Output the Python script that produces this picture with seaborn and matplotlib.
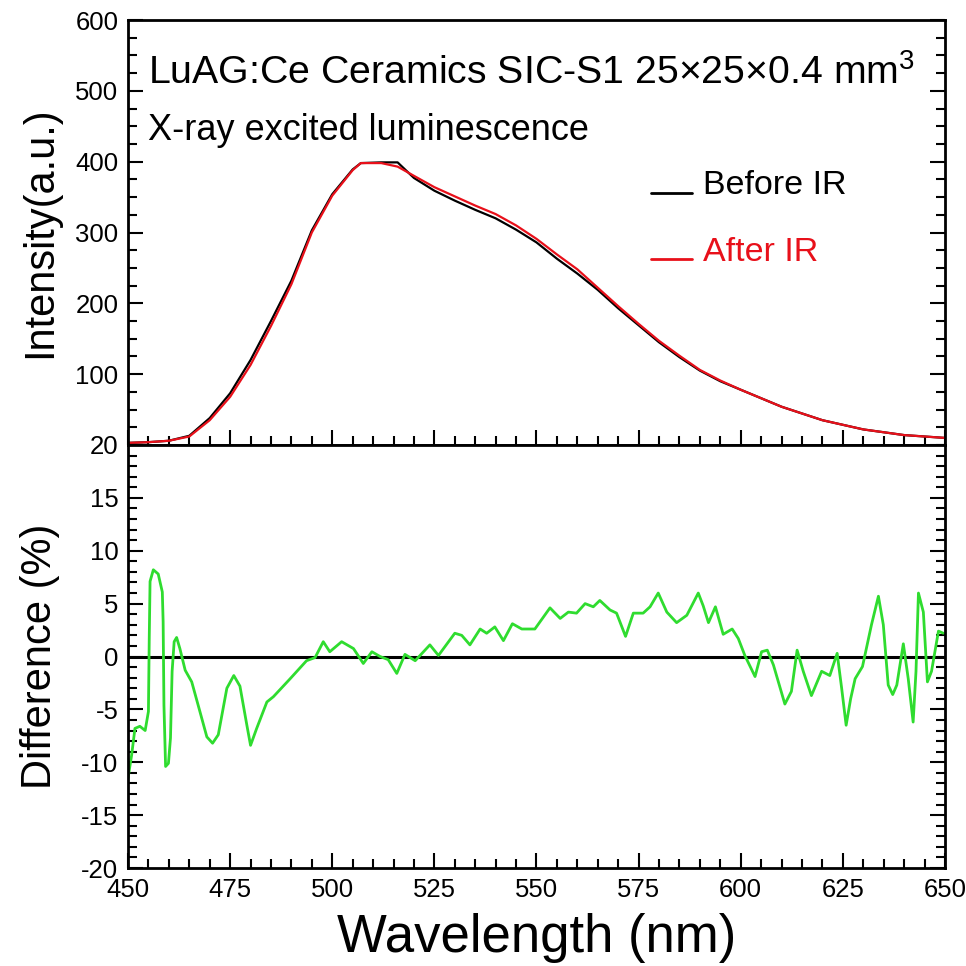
import numpy as np
import pandas as pd
import matplotlib
matplotlib.use("Agg")
import matplotlib.pyplot as plt
from matplotlib.ticker import MultipleLocator
from matplotlib.legend_handler import HandlerLine2D
import seaborn as sns

# ---------------- data ----------------
wl_spec = [450, 455, 460, 465, 470, 475, 480, 485, 490, 495, 500, 505, 507,
           512, 516, 520, 525, 530, 535, 540, 545, 550, 555, 560, 565, 570,
           575, 580, 585, 590, 595, 600, 610, 620, 630, 640, 650]
before_ir = [3, 4, 6, 13, 38, 73, 120, 175, 232, 303, 354, 389, 398,
             399, 399, 377, 359, 345, 332, 320, 304, 286, 263, 242, 219, 193,
             169, 145, 124, 105, 90, 78, 54, 35, 22, 14, 10]
after_ir = [3, 4, 6, 12, 35, 68, 113, 168, 227, 300, 352, 388, 398,
            398, 393, 380, 364, 351, 338, 326, 310, 291, 269, 248, 222, 196,
            171, 147, 126, 106, 91, 78, 54, 35, 22, 14, 10]

wl_diff = [450.0, 450.9, 451.7, 452.9, 454.2, 455.0, 455.2, 455.4, 456.2, 457.4,
           458.4, 458.6, 458.8, 459.2, 459.9, 460.4, 460.8, 461.3, 461.9, 462.7,
           464.0, 465.6, 467.6, 469.3, 470.7, 472.1, 474.2, 475.9, 477.4, 479.1,
           480.0, 481.5, 484.0, 485.6, 489.7, 493.7, 495.8, 497.8, 499.4, 502.3,
           505.2, 507.6, 509.7, 511.7, 513.7, 515.8, 517.8, 520.3, 523.9, 526.0,
           530.0, 531.7, 533.7, 536.2, 537.8, 539.8, 541.9, 544.1, 546.4, 549.6,
           553.3, 555.8, 557.8, 559.8, 561.9, 563.9, 565.5, 568.0, 569.6, 571.8,
           573.7, 576.1, 577.8, 579.8, 581.9, 584.3, 586.8, 589.6, 590.8, 592.1,
           593.8, 595.7, 597.9, 599.4, 601.0, 603.5, 605.1, 606.5, 608.0, 610.8,
           612.4, 613.8, 615.3, 617.3, 619.8, 621.8, 623.6, 624.7, 625.8, 626.9,
           628.0, 629.8, 632.0, 633.7, 634.9, 636.1, 637.2, 638.2, 639.8, 641.0,
           642.2, 642.9, 643.5, 644.7, 645.7, 646.7, 648.4, 649.6]
diff_pct = [-11.5, -9.3, -6.8, -6.6, -7.0, -5.2, 1.7, 7.1, 8.2, 7.8,
            6.1, 3.3, -4.6, -10.4, -10.1, -7.7, -1.4, 1.4, 1.8, 0.75,
            -1.3, -2.4, -5.2, -7.6, -8.2, -7.4, -3.0, -1.8, -2.8, -6.5,
            -8.4, -6.8, -4.3, -3.8, -2.1, -0.4, -0.1, 1.4, 0.45, 1.4,
            0.75, -0.66, 0.45, 0.0, -0.3, -1.6, 0.2, -0.4, 1.1, 0.1,
            2.2, 2.0, 1.1, 2.6, 2.2, 2.8, 1.5, 3.1, 2.6, 2.6,
            4.6, 3.6, 4.2, 4.1, 5.0, 4.7, 5.3, 4.4, 4.1, 1.9,
            4.1, 4.1, 4.7, 6.0, 4.2, 3.2, 3.9, 6.0, 4.8, 3.2,
            4.7, 2.1, 2.6, 1.7, 0.1, -1.9, 0.45, 0.6, -0.8, -4.5,
            -3.3, 0.6, -1.4, -3.7, -1.4, -1.8, 0.3, -3.0, -6.5, -4.0,
            -2.1, -0.95, 3.0, 5.7, 3.0, -2.7, -3.6, -2.7, 1.2, -2.1,
            -6.2, -1.4, 6.0, 4.2, -2.4, -1.4, 2.4, 2.2]

x_major = [450, 475, 500, 525, 550, 575, 600, 625, 650]
top_yticks = [100, 200, 300, 400, 500, 600]
bot_yticks = [-20, -15, -10, -5, 0, 5, 10, 15, 20]

title_text = "LuAG:Ce Ceramics SIC-S1 25\u00d725\u00d70.4 mm$^3$"
subtitle_text = "X-ray excited luminescence"

spec_df = pd.DataFrame({"wl": wl_spec, "before": before_ir, "after": after_ir})
diff_df = pd.DataFrame({"wl": wl_diff, "diff": diff_pct})

# ---------------- style ----------------
sns.set_style("ticks")
plt.rcParams["font.family"] = ["Liberation Sans", "DejaVu Sans"]
plt.rcParams["mathtext.fontset"] = "custom"
plt.rcParams["mathtext.rm"] = "Liberation Sans"
plt.rcParams["axes.unicode_minus"] = False
plt.rcParams["text.color"] = "black"
plt.rcParams["axes.labelcolor"] = "black"
plt.rcParams["xtick.color"] = "black"
plt.rcParams["ytick.color"] = "black"

fig = plt.figure(figsize=(9.66, 9.66), dpi=100)
W = H = 966.0
left, right = 128 / W, 945 / W
top_ax = fig.add_axes([left, 1 - 445 / H, right - left, (445 - 20) / H])
bot_ax = fig.add_axes([left, 1 - 868 / H, right - left, (868 - 445) / H])

sns.lineplot(data=spec_df, x="wl", y="before", ax=top_ax, color="black",
             linewidth=1.6, label="Before IR", estimator=None, sort=False)
sns.lineplot(data=spec_df, x="wl", y="after", ax=top_ax, color="#e8101a",
             linewidth=1.6, label="After IR", estimator=None, sort=False)
sns.lineplot(data=diff_df, x="wl", y="diff", ax=bot_ax, color="#2fdc2f",
             linewidth=2.0, estimator=None, sort=False)
bot_ax.axhline(0, color="black", linewidth=2.2, zorder=1)


class BaselineHandler(HandlerLine2D):
    def create_artists(self, legend, orig_handle, xdescent, ydescent,
                       width, height, fontsize, trans):
        arts = super().create_artists(legend, orig_handle, xdescent, ydescent,
                                      width, height, fontsize, trans)
        for a in arts:
            yd = a.get_ydata()
            a.set_ydata(np.full(len(yd), -ydescent + 1.0))
        return arts


for ax in (top_ax, bot_ax):
    ax.set_xlim(450, 650)
    ax.xaxis.set_major_locator(MultipleLocator(25))
    ax.xaxis.set_minor_locator(MultipleLocator(5))
    for s in ax.spines.values():
        s.set_linewidth(2.0)
        s.set_color("black")
    ax.tick_params(which="both", direction="in", left=True, right=True,
                   bottom=True, top=False, width=1.5, colors="black",
                   labelsize=18.5, pad=7)
    ax.tick_params(which="major", length=11)
    ax.tick_params(which="minor", length=6.5)
    ax.set_facecolor("white")

top_ax.set_ylim(0, 600)
top_ax.set_yticks(top_yticks)
top_ax.yaxis.set_minor_locator(MultipleLocator(25))
top_ax.tick_params(axis="x", labelbottom=False)
top_ax.set_xlabel("")
top_ax.set_ylabel("Intensity(a.u.)", fontsize=30)
top_ax.yaxis.set_label_coords(-0.083, 0.5)

bot_ax.set_ylim(-20, 20)
bot_ax.set_yticks(bot_yticks)
bot_ax.yaxis.set_minor_locator(MultipleLocator(1))
bot_ax.set_xticks(x_major)
bot_ax.set_xlabel("Wavelength (nm)", fontsize=38, labelpad=8)
bot_ax.set_ylabel("Difference (%)", fontsize=30)
bot_ax.yaxis.set_label_coords(-0.083, 0.5)

top_ax.text((148 - 128) / 817, (445 - 84) / 425, title_text,
            transform=top_ax.transAxes, fontsize=28.3, ha="left",
            va="baseline", color="black")
top_ax.text((148 - 128) / 817, (445 - 140) / 425, subtitle_text,
            transform=top_ax.transAxes, fontsize=26, ha="left",
            va="baseline", color="black")

leg = top_ax.legend(loc="upper left", bbox_to_anchor=((651 - 128) / 817, (445 - 170) / 425),
                    frameon=False, fontsize=24.5, handlelength=1.2,
                    handletextpad=0.32, labelspacing=1.05, borderpad=0,
                    borderaxespad=0, labelcolor="linecolor",
                    handler_map={plt.Line2D: BaselineHandler()})
for ln in leg.get_lines():
    ln.set_linewidth(2.0)

fig.savefig("out.png", dpi=100, facecolor="white")
